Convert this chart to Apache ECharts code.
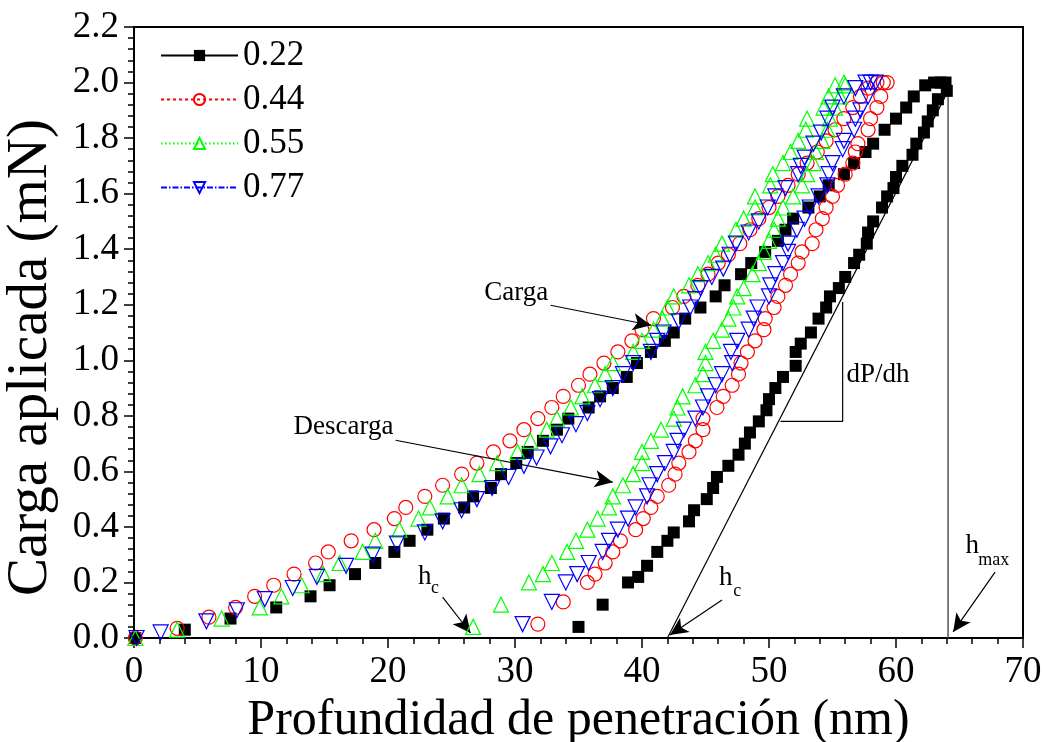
<!DOCTYPE html>
<html><head><meta charset="utf-8">
<script src="https://cdn.jsdelivr.net/npm/echarts@6/dist/echarts.min.js"></script>
<style>html,body{margin:0;padding:0;background:#fff}#c{width:1045px;height:742px}</style>
</head><body><div id="c"></div>
<script>
const seriesNames = ['0.22', '0.44', '0.55', '0.77'];
const xTicks = [0, 10, 20, 30, 40, 50, 60, 70];
const yTicks = [0.0, 0.2, 0.4, 0.6, 0.8, 1.0, 1.2, 1.4, 1.6, 1.8, 2.0, 2.2];

const load022 = [[0.1,0.0],[4.0,0.03],[7.6,0.07],[11.2,0.11],[13.9,0.15],[15.4,0.19],[17.4,0.23],[19.0,0.27],[20.5,0.31],[21.7,0.35],[23.1,0.39],[24.4,0.43],[26.0,0.47],[26.7,0.51],[28.1,0.54],[28.9,0.59],[30.1,0.63],[31.0,0.67],[32.2,0.71],[33.3,0.75],[34.2,0.79],[35.8,0.83],[36.7,0.87],[37.7,0.90],[38.8,0.94],[39.6,0.99],[40.7,1.03],[41.8,1.07],[42.5,1.10],[43.4,1.15],[44.6,1.19],[45.8,1.23],[46.5,1.27],[47.8,1.31],[48.6,1.35],[49.7,1.39],[50.7,1.43],[51.3,1.47],[51.9,1.51],[53.1,1.55],[54.0,1.59],[54.7,1.63],[55.9,1.67],[56.7,1.71],[57.6,1.75],[58.2,1.78],[59.1,1.83],[60.0,1.87],[60.8,1.91],[61.4,1.95],[62.3,1.99],[63.0,2.0],[63.5,2.0],[63.9,2.0]];
const unload022 = [[64.0,1.97],[63.3,1.94],[62.9,1.90],[62.5,1.86],[62.2,1.82],[61.6,1.78],[61.3,1.74],[60.5,1.70],[60.0,1.66],[59.8,1.62],[59.3,1.59],[58.9,1.55],[58.2,1.50],[57.8,1.46],[57.7,1.42],[57.1,1.38],[56.7,1.35],[56.0,1.30],[55.5,1.26],[54.8,1.23],[54.5,1.19],[53.9,1.15],[53.3,1.10],[52.5,1.06],[52.1,1.03],[52.1,0.98],[51.1,0.94],[50.5,0.90],[50.0,0.86],[49.8,0.82],[49.2,0.78],[48.5,0.74],[48.1,0.70],[47.6,0.66],[46.8,0.62],[45.9,0.58],[45.6,0.54],[45.1,0.50],[44.1,0.46],[43.7,0.42],[42.5,0.38],[42.0,0.35],[41.2,0.31],[40.4,0.26],[39.7,0.22],[38.9,0.20],[36.9,0.12],[35.0,0.04]];

const load044 = [[0.1,0.0],[3.4,0.035],[5.9,0.075],[8.0,0.11],[9.5,0.15],[11.0,0.19],[12.6,0.23],[14.3,0.27],[15.3,0.31],[17.1,0.35],[18.9,0.39],[20.5,0.43],[21.4,0.47],[22.9,0.51],[24.3,0.55],[25.8,0.59],[27.0,0.63],[28.3,0.67],[29.6,0.71],[30.7,0.75],[31.8,0.79],[32.9,0.83],[33.8,0.87],[35.0,0.91],[35.9,0.95],[37.0,0.99],[38.1,1.03],[39.2,1.07],[40.0,1.11],[40.9,1.15],[42.4,1.19],[43.3,1.23],[44.4,1.27],[45.2,1.31],[46.0,1.35],[46.8,1.38],[47.7,1.42],[48.5,1.47],[49.2,1.51],[50.0,1.55],[50.7,1.59],[51.5,1.63],[52.3,1.67],[53.0,1.71],[53.8,1.75],[54.5,1.79],[55.2,1.83],[55.9,1.87],[56.6,1.91],[57.2,1.95],[57.8,1.98],[58.5,2.0],[59.0,2.0],[59.3,2.0]];
const unload044 = [[58.8,1.95],[58.5,1.91],[58.0,1.87],[57.8,1.83],[57.0,1.78],[56.8,1.75],[56.6,1.71],[56.0,1.67],[55.4,1.63],[55.0,1.59],[54.5,1.55],[54.2,1.51],[53.7,1.47],[53.4,1.42],[52.6,1.39],[52.3,1.35],[51.7,1.31],[51.3,1.27],[50.7,1.23],[50.4,1.19],[49.7,1.15],[49.6,1.11],[48.9,1.07],[48.3,1.03],[47.8,0.99],[47.6,0.95],[47.1,0.91],[46.4,0.87],[45.9,0.83],[44.8,0.79],[44.8,0.75],[44.2,0.71],[43.7,0.67],[42.9,0.63],[42.6,0.59],[42.1,0.55],[41.2,0.51],[40.7,0.47],[40.1,0.43],[39.5,0.39],[38.3,0.35],[37.7,0.31],[37.1,0.27],[36.3,0.23],[35.7,0.20],[33.8,0.13],[31.8,0.05]];

const load055 = [[0.1,0.0],[3.4,0.03],[6.9,0.07],[9.9,0.11],[11.6,0.15],[13.2,0.19],[14.9,0.23],[16.2,0.27],[18.0,0.31],[19.0,0.35],[20.9,0.39],[22.4,0.43],[23.3,0.47],[24.7,0.51],[25.8,0.55],[27.2,0.59],[28.6,0.63],[30.2,0.67],[31.2,0.71],[32.5,0.75],[33.3,0.79],[34.4,0.83],[35.3,0.87],[36.3,0.91],[37.1,0.95],[37.7,0.99],[39.3,1.03],[40.0,1.07],[40.9,1.11],[41.6,1.15],[42.0,1.19],[42.5,1.23],[43.7,1.27],[44.4,1.31],[45.2,1.35],[45.8,1.38],[46.3,1.42],[47.4,1.47],[48.0,1.51],[48.9,1.55],[48.9,1.59],[50.1,1.63],[50.3,1.67],[51.1,1.71],[51.7,1.75],[52.3,1.79],[52.9,1.83],[53.0,1.87],[54.3,1.91],[54.7,1.95],[55.2,1.99],[55.9,2.0]];
const unload055 = [[56.0,1.99],[55.6,1.95],[55.2,1.91],[54.8,1.87],[54.6,1.83],[54.2,1.79],[53.7,1.75],[53.5,1.71],[53.0,1.67],[52.6,1.63],[51.9,1.59],[51.1,1.55],[50.7,1.51],[50.4,1.47],[50.0,1.43],[49.6,1.39],[49.2,1.35],[48.7,1.31],[48.0,1.26],[47.5,1.23],[47.2,1.19],[46.8,1.15],[46.3,1.11],[45.6,1.07],[45.0,1.03],[45.0,0.99],[44.8,0.95],[44.2,0.91],[43.2,0.87],[42.8,0.83],[42.5,0.79],[41.5,0.75],[40.7,0.71],[40.0,0.67],[40.0,0.63],[39.3,0.59],[38.5,0.55],[37.7,0.51],[37.4,0.47],[36.5,0.43],[35.7,0.39],[34.8,0.35],[34.1,0.31],[32.9,0.27],[32.2,0.23],[31.1,0.20],[28.9,0.12],[26.7,0.04]];

const load077 = [[0.2,0.0],[2.1,0.02],[5.7,0.06],[8.1,0.10],[10.3,0.14],[12.5,0.18],[14.4,0.22],[16.7,0.26],[18.8,0.30],[20.7,0.34],[22.9,0.38],[24.3,0.42],[25.8,0.46],[27.0,0.50],[28.2,0.54],[29.5,0.58],[30.7,0.62],[31.7,0.65],[32.8,0.69],[33.7,0.73],[34.8,0.77],[35.7,0.81],[36.7,0.86],[37.7,0.90],[38.5,0.95],[39.3,0.99],[40.7,1.03],[41.2,1.07],[41.7,1.10],[42.9,1.14],[43.8,1.19],[44.2,1.22],[44.6,1.26],[45.5,1.30],[46.4,1.33],[46.9,1.38],[47.4,1.42],[48.4,1.46],[49.2,1.50],[49.9,1.55],[50.5,1.59],[51.3,1.62],[52.3,1.67],[52.5,1.70],[52.8,1.73],[53.5,1.78],[54.1,1.82],[54.6,1.87],[55.0,1.91],[55.9,1.95],[56.8,1.98],[57.6,2.0],[58.0,2.0],[58.4,2.0]];
const unload077 = [[57.8,1.95],[57.2,1.90],[56.8,1.87],[56.7,1.83],[55.9,1.79],[55.8,1.76],[55.0,1.71],[54.7,1.67],[54.6,1.63],[53.9,1.59],[53.2,1.55],[52.8,1.51],[52.2,1.47],[51.5,1.42],[51.5,1.39],[51.1,1.35],[50.5,1.31],[50.1,1.27],[50.0,1.23],[49.1,1.19],[48.8,1.15],[48.4,1.11],[47.5,1.07],[47.0,1.03],[47.1,0.99],[46.3,0.95],[45.8,0.91],[45.2,0.87],[44.8,0.83],[44.2,0.79],[43.3,0.75],[42.8,0.71],[42.5,0.67],[41.8,0.63],[41.2,0.59],[40.6,0.55],[40.4,0.51],[39.5,0.47],[38.9,0.43],[38.1,0.39],[37.4,0.35],[36.9,0.31],[35.8,0.27],[34.9,0.23],[34.0,0.20],[32.9,0.13],[30.6,0.05]];

// construction lines (data coordinates)
const tangentLine = [[42.0, 0.0], [64.1, 1.97]];
const hmaxLine = [[64.1, 0.0], [64.1, 1.97]];
const slopeTriangle = [[50.9, 0.78], [55.8, 0.78], [55.8, 1.21]];
const arrows = [
  [[32.8, 1.198], [40.7, 1.126]],
  [[20.6, 0.712], [37.7, 0.561]],
  [[24.3, 0.147], [26.5, 0.018]],
  [[46.3, 0.137], [42.2, 0.011]],
  [[67.8, 0.237], [64.5, 0.022]]
];
const notes = [
  {text: 'Carga', pos: [30.1, 1.241], size: 27, align: 'center'},
  {text: 'Descarga', pos: [16.5, 0.759], size: 27, align: 'center'},
  {text: 'dP/dh', pos: [56.1, 0.946], size: 27, align: 'left'},
  {text: 'h', pos: [22.9, 0.219], size: 27, align: 'center'},
  {text: 'c', pos: [23.7, 0.178], size: 18, align: 'center'},
  {text: 'h', pos: [46.6, 0.216], size: 27, align: 'center'},
  {text: 'c', pos: [47.5, 0.169], size: 18, align: 'center'},
  {text: 'h', pos: [66.0, 0.331], size: 27, align: 'center'},
  {text: 'max', pos: [67.7, 0.281], size: 18, align: 'center'}
];

const FONT = "'Liberation Serif', 'Times New Roman', serif";
const colors = ['#000000', '#ff0000', '#00ff00', '#0000ff'];
const datasets = [load022.concat(unload022), load044.concat(unload044), load055.concat(unload055), load077.concat(unload077)];
const symbols = ['rect', 'circle', 'triangle', 'triangle'];
const symSizes = [12, 14, 15, 15];
const rotations = [0, 0, 0, 180];
const lineTypes = ['solid', [3, 3], [1.5, 2.5], [6, 2, 1.5, 2]];

function markerStyle(i) {
  return i === 0 ? {color: '#000', borderColor: '#000', borderWidth: 0, opacity: 1}
                 : {color: 'rgba(255,255,255,0)', borderColor: colors[i], borderWidth: 1.2, opacity: 1};
}

// legend-only series (empty data) give the legend its line + symbol icons
const legendSeries = seriesNames.map((n, i) => ({
  name: n, type: 'line', data: [],
  symbol: symbols[i], symbolSize: symSizes[i], symbolRotate: rotations[i],
  lineStyle: {color: colors[i], width: 1.2, type: lineTypes[i]},
  itemStyle: markerStyle(i)
}));

const pointSeries = seriesNames.map((n, i) => ({
  name: n,
  type: 'scatter',
  data: datasets[i],
  symbol: symbols[i],
  symbolSize: symSizes[i],
  symbolRotate: rotations[i],
  z: 3 + i,
  itemStyle: markerStyle(i),
  emphasis: {disabled: true}
}));

const chart = echarts.init(document.getElementById('c'), null, {renderer: 'canvas'});
const option = {
  animation: false,
  backgroundColor: '#fff',
  grid: {left: 134, right: 22, top: 27, bottom: 104, show: true, borderColor: '#000', borderWidth: 2,
         containLabel: false, outerBoundsMode: 'none'},
  legend: {
    orient: 'vertical', left: 155, top: 33, itemWidth: 77, itemHeight: 14, itemGap: 9,
    textStyle: {fontFamily: FONT, fontSize: 35, color: '#000'},
    data: seriesNames
  },
  xAxis: {
    type: 'value', min: xTicks[0], max: xTicks[xTicks.length - 1], interval: 10,
    name: 'Profundidad de penetración (nm)', nameLocation: 'middle', nameGap: 47,
    nameTextStyle: {fontFamily: FONT, fontSize: 50, color: '#000'},
    axisLine: {show: true, lineStyle: {color: '#000', width: 2}},
    axisTick: {show: true, inside: false, length: 10, lineStyle: {color: '#000', width: 1.5}},
    minorTick: {show: true, splitNumber: 5, length: 6, lineStyle: {color: '#000', width: 1.5}},
    axisLabel: {fontFamily: FONT, fontSize: 37, color: '#000', margin: 16},
    splitLine: {show: false}
  },
  yAxis: {
    type: 'value', min: yTicks[0], max: yTicks[yTicks.length - 1], interval: 0.2,
    name: 'Carga aplicada (mN)', nameLocation: 'middle', nameGap: 74,
    nameTextStyle: {fontFamily: FONT, fontSize: 57, color: '#000', padding: [0, 50, 0, 0]},
    axisLine: {show: true, lineStyle: {color: '#000', width: 2}},
    axisTick: {show: true, inside: false, length: 10, lineStyle: {color: '#000', width: 1.5}},
    minorTick: {show: true, splitNumber: 5, length: 6, lineStyle: {color: '#000', width: 1.5}},
    axisLabel: {fontFamily: FONT, fontSize: 37, color: '#000', margin: 15, formatter: v => v.toFixed(1)},
    splitLine: {show: false}
  },
  series: legendSeries.concat(pointSeries).concat([
    {name: 'tangent', type: 'line', data: tangentLine, symbol: 'none', silent: true, z: 2,
     lineStyle: {color: '#000', width: 1.2}},
    {name: 'hmax', type: 'line', data: hmaxLine, symbol: 'none', silent: true, z: 2,
     lineStyle: {color: '#555', width: 1.5}},
    {name: 'slope', type: 'line', data: slopeTriangle, symbol: 'none', silent: true, z: 2,
     lineStyle: {color: '#000', width: 1.2}},
    {name: 'arrows', type: 'line', data: [], silent: true, z: 10,
     markLine: {
       silent: true, animation: false, symbol: ['none', 'arrow'], symbolSize: [13, 18],
       label: {show: false},
       lineStyle: {color: '#000', width: 1.2, type: 'solid'},
       data: arrows.map(a => [{coord: a[0]}, {coord: a[1]}])
     }},
    {name: 'notes', type: 'scatter', silent: true, z: 11, symbolSize: 0,
     itemStyle: {opacity: 1},
     data: notes.map(n => ({
       value: n.pos,
       label: {show: true, position: 'inside', formatter: n.text, fontFamily: FONT, fontSize: n.size,
               color: '#000', textBorderWidth: 0, opacity: 1, align: n.align}
     }))}
  ])
};
chart.setOption(option);
</script></body></html>
